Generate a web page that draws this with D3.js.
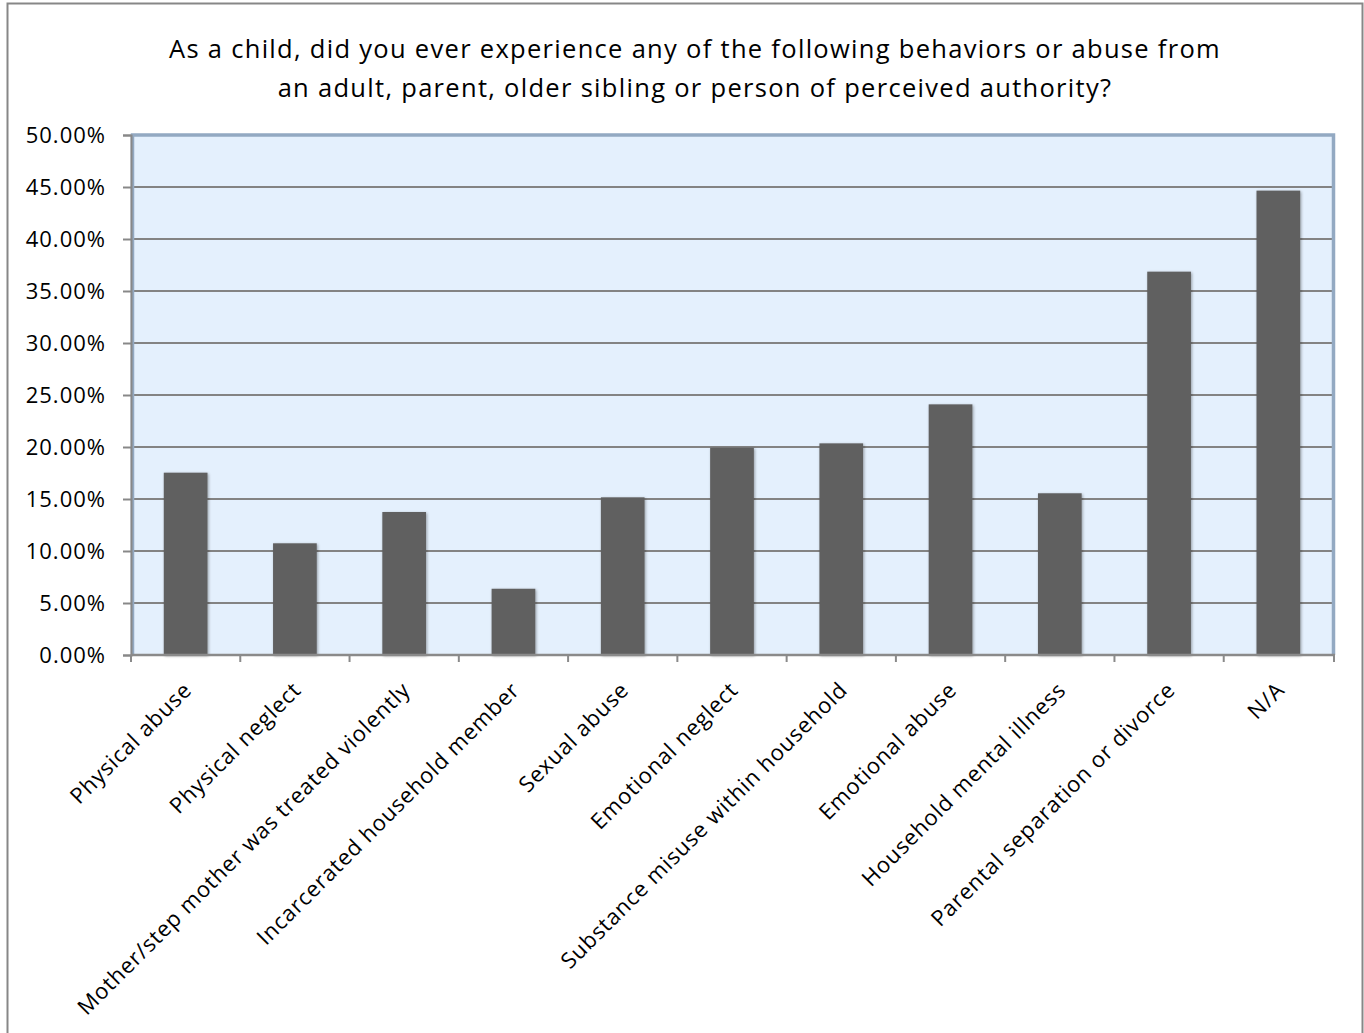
<!DOCTYPE html>
<html>
<head>
<meta charset="utf-8">
<script src="https://cdn.jsdelivr.net/npm/d3@7"></script>
<style>
  html, body { margin: 0; padding: 0; background: #fff; }
  svg { display: block; }
  text { font-family: "Open Sans", Lato, sans-serif; fill: #000; }
</style>
</head>
<body>
<svg id="chart" width="1364" height="1033"></svg>
<script>
const categories = [
  "Physical abuse",
  "Physical neglect",
  "Mother/step mother was treated violently",
  "Incarcerated household member",
  "Sexual abuse",
  "Emotional neglect",
  "Substance misuse within household",
  "Emotional abuse",
  "Household mental illness",
  "Parental separation or divorce",
  "N/A"
];
const values = [17.53, 10.74, 13.75, 6.37, 15.16, 19.93, 20.35, 24.10, 15.55, 36.86, 44.65];
const yTicks = [0, 5, 10, 15, 20, 25, 30, 35, 40, 45, 50];
const titleLines = [
  "As a child, did you ever experience any of the following behaviors or abuse from",
  "an adult, parent, older sibling or person of perceived authority?"
];

const svg = d3.select("#chart");
const W = 1364, H = 1033;
const plot = { left: 131, right: 1333, top: 135, bottom: 655 };

// outer chart border
svg.append("rect")
  .attr("x", 7.5).attr("y", 3.5)
  .attr("width", 1355).attr("height", H + 10)
  .attr("fill", "#fff").attr("stroke", "#878787").attr("stroke-width", 2);

const defs = svg.append("defs");
const f = defs.append("filter").attr("id", "shadow")
  .attr("x", "-20%").attr("y", "-5%").attr("width", "140%").attr("height", "110%");
f.append("feGaussianBlur").attr("in", "SourceAlpha").attr("stdDeviation", 1.6).attr("result", "b");
f.append("feOffset").attr("in", "b").attr("dx", 0.5).attr("dy", 1).attr("result", "o");
f.append("feComponentTransfer").attr("in", "o").attr("result", "o2")
  .append("feFuncA").attr("type", "linear").attr("slope", 0.35);
const m = f.append("feMerge");
m.append("feMergeNode").attr("in", "o2");
m.append("feMergeNode").attr("in", "SourceGraphic");

const x = d3.scaleBand().domain(categories).range([plot.left, plot.right])
  .paddingInner(0.6).paddingOuter(0.3);
const xOuter = d3.scaleBand().domain(categories).range([plot.left, plot.right]).padding(0);
const y = d3.scaleLinear().domain([0, 50]).range([plot.bottom, plot.top]);

// plot background
svg.append("rect")
  .attr("x", plot.left).attr("y", plot.top)
  .attr("width", plot.right - plot.left).attr("height", plot.bottom - plot.top)
  .attr("fill", "#e4f0fd");

// gridlines
svg.append("g").selectAll("line")
  .data(yTicks.filter(d => d > 0 && d < 50))
  .join("line")
  .attr("x1", plot.left).attr("x2", plot.right)
  .attr("y1", d => y(d)).attr("y2", d => y(d))
  .attr("stroke", "#838383").attr("stroke-width", 2);

// plot border (left, top, right) blue-gray
svg.append("path")
  .attr("d", `M${plot.left + 1.5},${plot.bottom} V${plot.top} H${plot.right + 0.5} V${plot.bottom}`)
  .attr("fill", "none").attr("stroke", "#93a9c2").attr("stroke-width", 3.5);

// bars
svg.append("g").selectAll("rect")
  .data(values)
  .join("rect")
  .attr("x", (d, i) => x(categories[i]))
  .attr("width", x.bandwidth())
  .attr("y", d => y(d))
  .attr("height", d => y(0) - y(d))
  .attr("fill", "#606060")
  .attr("filter", "url(#shadow)");

// y axis
const yAxis = d3.axisLeft(y).tickValues(yTicks).tickSize(8).tickPadding(17)
  .tickFormat(d => d.toFixed(2) + "%");
const gy = svg.append("g").attr("transform", `translate(${plot.left},0)`).call(yAxis);
gy.select(".domain").attr("stroke", "#888").attr("stroke-width", 2);
gy.selectAll(".tick line").attr("stroke", "#888").attr("stroke-width", 2);
gy.selectAll(".tick text")
  .attr("font-size", 22).attr("letter-spacing", "1px")
  .attr("font-family", "'Open Sans', Lato, sans-serif").attr("fill", "#000");

// x axis line and boundary ticks
svg.append("line")
  .attr("x1", plot.left).attr("x2", plot.right + 2)
  .attr("y1", plot.bottom).attr("y2", plot.bottom)
  .attr("stroke", "#8a8a8a").attr("stroke-width", 2.5);
const bounds = categories.map(c => xOuter(c)).concat([plot.right + 1]);
svg.append("g").selectAll("line")
  .data(bounds)
  .join("line")
  .attr("x1", d => d).attr("x2", d => d)
  .attr("y1", plot.bottom).attr("y2", plot.bottom + 7)
  .attr("stroke", "#8a8a8a").attr("stroke-width", 2);

// x labels rotated
svg.append("g").selectAll("text")
  .data(categories)
  .join("text")
  .attr("transform", d => `translate(${x(d) + x.bandwidth() / 2 + 2},${plot.bottom + 31}) rotate(-45)`)
  .attr("text-anchor", "end")
  .attr("dy", "0.35em")
  .attr("font-size", 22)
  .attr("letter-spacing", "0.8px")
  .text(d => d);

// title
svg.append("g").selectAll("text")
  .data(titleLines)
  .join("text")
  .attr("x", 695)
  .attr("y", (d, i) => 58 + i * 39)
  .attr("text-anchor", "middle")
  .attr("font-size", 25.5)
  .attr("letter-spacing", "1.3px")
  .text(d => d);
</script>
</body>
</html>
